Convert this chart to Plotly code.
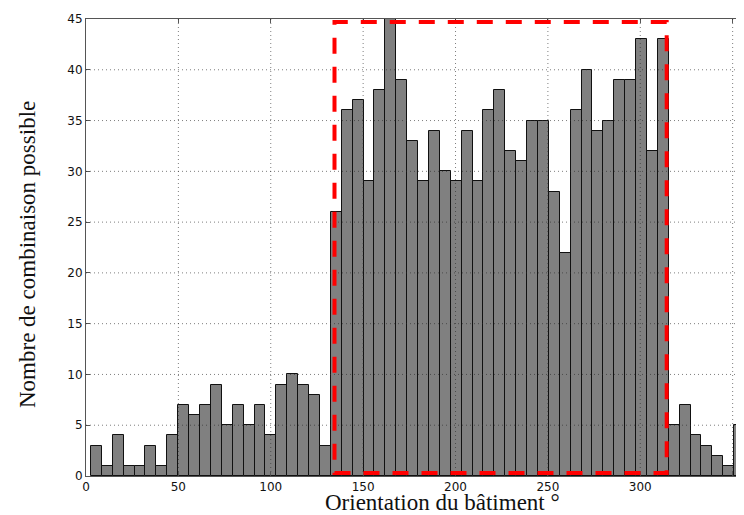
import plotly.graph_objects as go

# ---- data ----
counts = [3, 1, 4, 1, 1, 3, 1, 4,
          7, 6, 7, 9, 5, 7, 5, 7, 4, 9, 10, 9, 8, 3,
          26, 36, 37, 29, 38, 45, 39, 33, 29, 34, 30, 29, 34, 29, 36, 38, 32, 31, 35, 35,
          28, 22, 36, 40, 34, 35, 39, 39, 43, 32, 43,
          5, 7, 4, 3, 2, 1, 5]
bin_start = 2.7
bin_width = 5.9
x_ticks = [0, 50, 100, 150, 200, 250, 300, 350]
y_ticks = [0, 5, 10, 15, 20, 25, 30, 35, 40, 45]
x_range = [0, 355.6]
y_range = [0, 45]
highlight_x = [134.5, 314.3]
highlight_y = [0.3, 44.7]
x_title = "Orientation du bâtiment °"
y_title = "Nombre de combinaison possible"

centers = [bin_start + (i + 0.5) * bin_width for i in range(len(counts))]

fig = go.Figure()
fig.add_trace(go.Bar(
    x=centers, y=counts, width=bin_width,
    marker=dict(color="#808080", line=dict(color="#111111", width=1)),
    showlegend=False, hoverinfo="x+y",
))

grid_style = dict(color="rgba(40,40,40,0.6)", width=1, dash="1px,3px")
for v in x_ticks:
    if x_range[0] < v < x_range[1]:
        fig.add_shape(type="line", xref="x", yref="paper", x0=v, x1=v, y0=0, y1=1,
                      line=grid_style, layer="above")
for v in y_ticks:
    if y_range[0] < v < y_range[1]:
        fig.add_shape(type="line", xref="paper", yref="y", x0=0, x1=1, y0=v, y1=v,
                      line=grid_style, layer="above")

fig.add_shape(type="rect", xref="x", yref="y",
              x0=highlight_x[0], x1=highlight_x[1], y0=highlight_y[0], y1=highlight_y[1],
              line=dict(color="#ff0000", width=4, dash="16px,13px"), layer="above")

axis_common = dict(
    showgrid=False, zeroline=False,
    showline=True, linecolor="#555555", linewidth=1, mirror="ticks",
    ticks="inside", ticklen=4, tickcolor="#555555",
    tickfont=dict(family="DejaVu Sans", size=12, color="#111111"),
)
fig.update_xaxes(range=x_range, tickvals=x_ticks, **axis_common)
fig.update_yaxes(range=y_range, tickvals=y_ticks, **axis_common)

fig.add_annotation(text=x_title, xref="paper", yref="paper", x=0.542, y=-0.059,
                   xanchor="center", yanchor="middle", showarrow=False,
                   font=dict(family="Liberation Serif", size=23, color="#111111"))
fig.add_annotation(text=y_title, xref="paper", yref="paper", x=-0.088, y=0.484,
                   xanchor="center", yanchor="middle", showarrow=False, textangle=-90,
                   font=dict(family="Liberation Serif", size=23, color="#111111"))

# the page body adds an 8px margin; the figure is offset by it
fig.update_layout(
    width=736, height=507,
    margin=dict(l=78, r=1, t=11, b=39),
    paper_bgcolor="white", plot_bgcolor="white",
    bargap=0,
)

fig.write_html("out.html")
